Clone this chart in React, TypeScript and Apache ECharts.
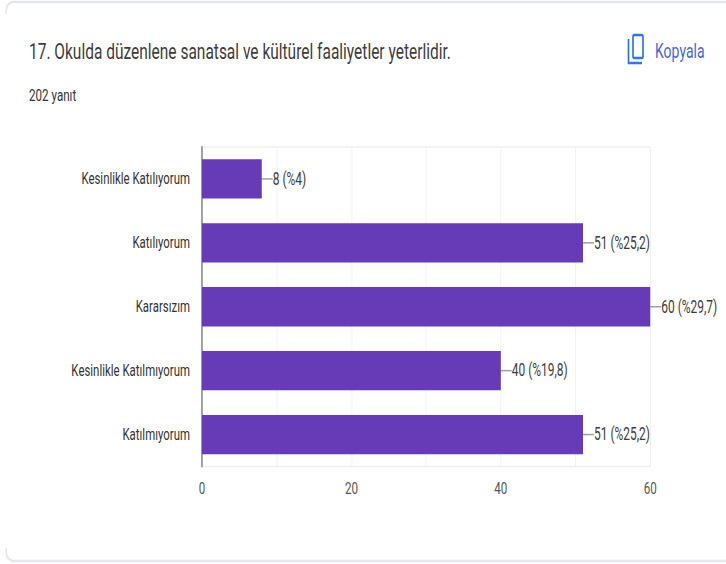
import React, { useEffect, useRef } from "react";
import * as echarts from "echarts";

const categories = ["Kesinlikle Katılıyorum", "Katılıyorum", "Kararsızım", "Kesinlikle Katılmıyorum", "Katılmıyorum"];
const values = [8, 51, 60, 40, 51];
const percents = ["%4", "%25,2", "%29,7", "%19,8", "%25,2"];
const axisTicks = [0, 20, 40, 60];
const titleText = "17. Okulda düzenlene sanatsal ve kültürel faaliyetler yeterlidir.";
const subtitleText = "202 yanıt";
const copyText = "Kopyala";
const FONT = "Roboto, sans-serif";
const K = 0.68; // the reference's text is horizontally condensed
const PAGE_W = 726;
const PAGE_H = 564;
const sx = (x: number) => x / K;

export default function App() {
  const ref = useRef<HTMLDivElement>(null);
  useEffect(() => {
    document.body.style.margin = "0";
    document.body.style.overflow = "hidden";
    const chart = echarts.init(ref.current!, null, { renderer: "svg" });
    const cardLine = (points: number[][]) => ({
      type: "polyline",
      silent: true,
      z: -5,
      shape: { points: points.map(([x, y]) => [sx(x), y]) },
      style: { fill: "none", stroke: "#e6e6ee", lineWidth: 2.5 },
    });
    chart.setOption({
      animation: false,
      backgroundColor: "#ffffff",
      textStyle: { fontFamily: FONT },
      grid: {
        show: true,
        borderColor: "#f0f0f0",
        borderWidth: 1.3,
        left: sx(202),
        right: sx(76),
        top: 147,
        bottom: 97.5,
        containLabel: false,
      },
      title: [
        { text: titleText, left: sx(29), top: 40, padding: 0, textStyle: { fontFamily: FONT, fontSize: 22.8, fontWeight: "normal", color: "#3c3c3c" } },
        { text: subtitleText, left: sx(29), top: 87, padding: 0, textStyle: { fontFamily: FONT, fontSize: 17.1, fontWeight: "normal", color: "#333333" } },
        { text: copyText, left: sx(655), top: 40, padding: 0, textStyle: { fontFamily: FONT, fontSize: 20.6, fontWeight: "normal", color: "#4a67d6" } },
      ],
      xAxis: {
        type: "value",
        min: 0,
        max: 60,
        interval: 10,
        axisLine: { show: false },
        axisTick: { show: false },
        axisLabel: {
          customValues: axisTicks,
          margin: 13,
          fontFamily: FONT,
          fontSize: 17.1,
          color: "#555555",
        },
        splitLine: { show: true, lineStyle: { color: "#f0f0f0", width: 1.3 } },
      },
      yAxis: {
        type: "category",
        inverse: true,
        data: categories,
        axisLine: { show: true, lineStyle: { color: "#7a7a7a", width: 2 } },
        axisTick: { show: false },
        axisLabel: { margin: sx(12), fontFamily: FONT, fontSize: 16.8, color: "#333333" },
        splitLine: { show: false },
      },
      series: [
        {
          type: "bar",
          data: values,
          barWidth: "61.5%",
          itemStyle: { color: "#673ab7" },
          label: {
            show: true,
            position: "right",
            distance: 0,
            fontFamily: FONT,
            fontSize: 17.6,
            color: "#3c3c3c",
            formatter: (p: any) => `${p.value} (${percents[p.dataIndex]})`,
          },
          labelLayout: { dx: sx(11) },
          labelLine: { show: true, lineStyle: { color: "#a0a0a0", width: 1.5 } },
        },
      ],
      graphic: [
        cardLine([[6, 14], [6.5, 8], [8, 4.5], [12, 2], [726, 2]]),
        cardLine([[6, 548], [6.5, 555], [8, 558.5], [12, 561], [726, 561]]),
        {
          type: "rect",
          silent: true,
          shape: { x: sx(633), y: 35, width: sx(10), height: 23, r: 2 },
          style: { fill: "none", stroke: "#2f74e8", lineWidth: 2.5 },
        },
        {
          type: "polyline",
          silent: true,
          shape: { points: [[sx(628.5), 39], [sx(628.5), 63], [sx(642), 63]] },
          style: { fill: "none", stroke: "#2f74e8", lineWidth: 2.5 },
        },
      ],
    });
    return () => chart.dispose();
  }, []);
  return (
    <div style={{ width: PAGE_W, height: PAGE_H, overflow: "hidden" }}>
      <div
        ref={ref}
        style={{ width: PAGE_W / K, height: PAGE_H, transform: `scaleX(${K})`, transformOrigin: "0 0" }}
      />
    </div>
  );
}
